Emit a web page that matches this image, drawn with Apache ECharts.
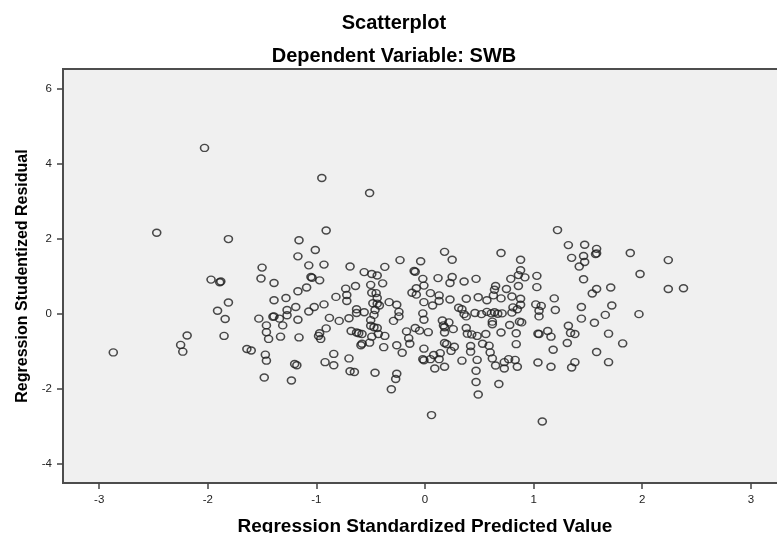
<!DOCTYPE html>
<html>
<head>
<meta charset="utf-8">
<script src="https://cdn.jsdelivr.net/npm/echarts@6/dist/echarts.min.js"></script>
<style>
html,body{margin:0;padding:0;background:#ffffff;overflow:hidden;width:777px;height:533px;}
#chart{width:787px;height:533px;}
</style>
</head>
<body>
<div id="chart"></div>
<script>
// Regression Standardized Predicted Value (x)
const predicted = [
-2.03,-2.47,-1.81,-1.16,-1.17,-1.50,-1.97,-1.89,-1.88,-1.51,-1.39,-1.17,-1.28,-1.39,-1.19,-1.27,-1.81,-1.91,-1.84,-1.53,-1.40,-1.39,-1.27,-1.34,-1.46,-1.31,-1.17,-2.19,-2.25,-2.23,-2.87,-1.85,-1.46,-1.44,-1.33,-1.16,-1.64,-1.60,-1.47,-1.46,-1.48,-1.23,-1.20,-1.18,
-0.95,-0.51,-0.91,-1.01,-1.07,-0.93,-1.05,-1.04,-0.97,-1.09,-0.69,-0.56,-0.49,-0.44,-0.37,-0.23,-0.04,-0.10,-0.09,-0.02,-0.01,0.18,0.25,0.12,0.25,0.23,0.36,0.47,0.70,0.79,0.86,0.88,0.86,0.65,0.64,0.75,0.63,0.70,0.80,0.57,0.49,0.38,0.23,0.13,0.13,0.05,0.07,-0.01,-0.12,-0.08,-0.08,-0.39,-0.50,-0.64,-0.73,-0.72,-0.72,-0.82,-0.49,-0.45,-0.44,-0.48,-0.44,-0.42,-0.46,-0.47,-0.33,-0.26,-0.24,-0.24,-0.93,-1.02,-1.07,-0.88,-0.79,-0.70,-0.63,-0.63,-0.56,-0.50,-0.50,-0.29,-0.02,-0.01,0.16,0.22,0.17,0.31,0.34,0.36,0.38,0.46,0.52,0.57,0.61,0.64,0.67,0.62,0.62,0.78,0.80,0.85,0.87,0.89,
-0.98,-0.96,-0.97,-0.91,-0.68,-0.63,-0.58,-0.61,-0.59,-0.58,-0.51,-0.49,-0.47,-0.44,-0.43,-0.37,-0.38,-0.26,-0.21,-0.84,-0.92,-0.84,-0.70,-0.69,-0.65,-0.46,-0.26,-0.27,-0.31,-0.17,-0.15,-0.14,-0.09,-0.05,0.03,-0.01,-0.02,-0.01,0.05,0.09,0.06,0.08,0.14,0.13,0.18,0.18,0.18,0.18,0.20,0.27,0.24,0.26,0.34,0.38,0.39,0.43,0.48,0.42,0.42,0.48,0.47,0.47,0.49,0.56,0.53,0.59,0.60,0.62,0.65,0.70,0.68,0.73,0.73,0.77,0.84,0.84,0.83,0.85,
1.22,1.32,1.47,1.58,1.57,1.58,1.35,1.46,1.47,1.42,1.89,2.24,1.98,1.46,2.24,2.38,1.58,1.54,1.71,1.72,1.66,1.97,1.44,1.44,1.56,1.69,1.32,1.34,1.38,1.19,1.20,1.13,1.16,1.04,1.05,1.03,1.03,1.02,1.07,1.05,1.05,0.88,0.92,0.88,0.88,0.81,0.71,1.82,1.58,1.69,1.31,1.18,1.38,1.35,1.16,1.04,1.08
];
// Regression Studentized Residual (y)
const residual = [
4.43,2.17,2.00,1.97,1.54,1.24,0.92,0.85,0.87,0.95,0.83,0.61,0.43,0.37,0.19,0.11,0.31,0.09,-0.13,-0.12,-0.07,-0.06,-0.03,-0.12,-0.30,-0.30,-0.15,-0.57,-0.82,-1.00,-1.02,-0.58,-0.48,-0.66,-0.60,-0.62,-0.93,-0.97,-1.08,-1.24,-1.69,-1.77,-1.33,-1.36,
3.63,3.23,2.23,1.71,1.30,1.32,0.99,0.97,0.90,0.71,1.27,1.12,1.07,1.03,1.26,1.44,1.41,1.15,1.13,0.94,0.76,1.66,1.45,0.96,0.99,0.83,0.87,0.94,1.63,0.94,1.04,1.45,0.75,0.75,0.65,0.67,0.50,0.42,0.47,0.37,0.45,0.41,0.39,0.50,0.35,0.56,0.23,0.32,0.57,0.52,0.69,0.82,0.78,0.75,0.68,0.51,0.35,0.46,0.57,0.56,0.43,0.29,0.28,0.23,0.11,-0.02,0.32,0.25,0.06,-0.06,0.26,0.19,0.07,-0.10,-0.18,-0.11,0.03,0.13,0.05,-0.16,-0.31,-0.18,0.02,-0.15,-0.17,-0.22,-0.30,0.17,0.13,0.00,-0.06,0.03,0.00,0.06,0.02,0.05,0.01,-0.20,-0.27,-0.29,0.04,0.13,-0.20,-0.22,
-0.58,-0.66,-0.51,-0.38,-0.45,-0.49,-0.53,-0.51,-0.83,-0.79,-0.76,-0.60,-0.35,-0.37,-0.53,-0.58,-0.88,-0.83,-1.03,-1.06,-1.28,-1.36,-1.18,-1.52,-1.54,-1.56,-1.59,-1.73,-2.00,-0.46,-0.64,-0.79,-0.37,-0.44,-0.48,-0.92,-1.20,-1.23,-1.20,-1.45,-2.69,-1.09,-1.04,-1.20,-1.40,-0.35,-0.49,-0.77,-0.80,-0.87,-0.98,-0.40,-1.24,-0.37,-0.52,-0.54,-0.58,-0.85,-1.00,-1.22,-1.51,-1.81,-2.14,-0.53,-0.79,-0.84,-1.02,-1.18,-1.37,-0.49,-1.86,-1.28,-1.45,-1.20,-0.51,-0.80,-1.22,-1.40,
2.24,1.84,1.85,1.74,1.60,1.62,1.50,1.55,1.39,1.27,1.63,1.44,1.07,0.93,0.67,0.69,0.67,0.55,0.71,0.23,-0.02,0.00,0.19,-0.12,-0.23,-0.52,-0.31,-0.50,-0.53,0.42,0.11,-0.45,-0.60,-0.52,-0.53,1.02,0.72,0.26,0.22,0.09,-0.06,1.17,0.98,0.41,0.25,0.18,0.02,-0.78,-1.01,-1.28,-0.77,-0.95,-1.28,-1.42,-1.40,-1.29,-2.86
];
const xTicks = [-3, -2, -1, 0, 1, 2, 3];
const yTicks = [-4, -2, 0, 2, 4, 6];
const chartTitle = 'Scatterplot';
const chartSubtitle = 'Dependent Variable: SWB';
const xName = 'Regression Standardized Predicted Value';
const yName = 'Regression Studentized Residual';

const points = predicted.map((x, i) => [x, residual[i]]);
const FONT = '"Liberation Sans", Arial, sans-serif';

const chart = echarts.init(document.getElementById('chart'), null, {renderer: 'canvas'});
chart.setOption({
  animation: false,
  backgroundColor: '#ffffff',
  graphic: [
    {type: 'text', x: 394, y: 23, silent: true,
     style: {text: chartTitle, textAlign: 'center', textVerticalAlign: 'middle',
             font: 'bold 20px ' + FONT, fill: '#000000'}},
    {type: 'text', x: 394, y: 56, silent: true,
     style: {text: chartSubtitle, textAlign: 'center', textVerticalAlign: 'middle',
             font: 'bold 20px ' + FONT, fill: '#000000'}}
  ],
  grid: {
    left: 63, top: 69, right: 0, bottom: 50,
    outerBoundsMode: 'none', containLabel: false,
    show: true, backgroundColor: '#f0f0f0', borderColor: '#4d4d4d', borderWidth: 2
  },
  xAxis: {
    type: 'value', min: -3.333, max: 3.333,
    name: xName, nameLocation: 'middle', nameGap: 34,
    nameTextStyle: {fontFamily: FONT, fontWeight: 'bold', fontSize: 19, color: '#000'},
    axisLine: {show: false, onZero: false},
    splitLine: {show: false},
    axisTick: {show: true, inside: false, length: 6, customValues: xTicks,
               lineStyle: {color: '#444', width: 1.5}},
    axisLabel: {customValues: xTicks, margin: 11, fontFamily: FONT, fontSize: 11.5, color: '#222'}
  },
  yAxis: {
    type: 'value', min: -4.5, max: 6.533,
    name: yName, nameLocation: 'middle', nameGap: 32,
    nameTextStyle: {fontFamily: FONT, fontWeight: 'bold', fontSize: 16, color: '#000'},
    axisLine: {show: false, onZero: false},
    splitLine: {show: false},
    axisTick: {show: true, inside: false, length: 6, customValues: yTicks,
               lineStyle: {color: '#444', width: 1.5}},
    axisLabel: {customValues: yTicks, margin: 11, fontFamily: FONT, fontSize: 11.5, color: '#222'}
  },
  series: [{
    type: 'scatter',
    data: points,
    symbol: 'circle',
    symbolSize: [8, 7],
    silent: true,
    itemStyle: {color: 'rgba(0,0,0,0)', borderColor: '#1e1e1e', borderWidth: 1.5}
  }]
});
</script>
</body>
</html>
